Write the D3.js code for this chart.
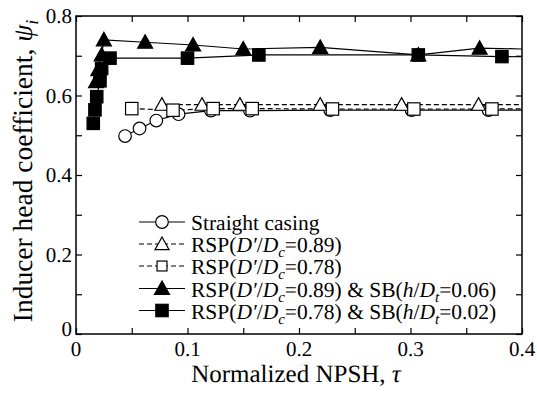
<!DOCTYPE html>
<html><head><meta charset="utf-8">
<script src="https://cdn.jsdelivr.net/npm/d3@7"></script>
<style>
@font-face{font-family:"ChartSerif";src:local("Liberation Serif"),local("LiberationSerif"),local("Liberation Serif Regular"),local("Tinos");font-style:normal;font-weight:400}
@font-face{font-family:"ChartSerif";src:local("Liberation Serif Italic"),local("LiberationSerif-Italic"),local("Tinos Italic");font-style:italic;font-weight:400}
svg text{text-rendering:geometricPrecision}
</style>
</head><body>
<svg id="c" width="537" height="394" style="position:absolute;left:0;top:0"></svg>
<script>
// ---- data ----
const xTicks = [0, 0.1, 0.2, 0.3, 0.4];
const yTicks = [0, 0.2, 0.4, 0.6, 0.8];
const xTickLabels = ["0", "0.1", "0.2", "0.3", "0.4"];
const yTickLabels = ["0", "0.2", "0.4", "0.6", "0.8"];

const straightX = [0.044, 0.057, 0.072, 0.092, 0.121, 0.156, 0.228, 0.301, 0.370, 0.42];
const straightY = [0.498, 0.517, 0.537, 0.553, 0.562, 0.562, 0.563, 0.563, 0.563, 0.563];
const rsp89X = [0.077, 0.113, 0.147, 0.219, 0.292, 0.361, 0.42];
const rsp89Y = [0.577, 0.577, 0.577, 0.577, 0.577, 0.577, 0.577];
const rsp78X = [0.050, 0.087, 0.123, 0.158, 0.230, 0.303, 0.373, 0.42];
const rsp78Y = [0.567, 0.563, 0.567, 0.567, 0.566, 0.566, 0.566, 0.567];
const sb06X = [0.018, 0.020, 0.023, 0.025, 0.062, 0.105, 0.150, 0.219, 0.307, 0.362, 0.42];
const sb06Y = [0.635, 0.665, 0.702, 0.740, 0.734, 0.727, 0.717, 0.721, 0.702, 0.719, 0.716];
const sb02X = [0.0155, 0.017, 0.0186, 0.0215, 0.023, 0.0305, 0.100, 0.164, 0.307, 0.382, 0.42];
const sb02Y = [0.530, 0.564, 0.597, 0.637, 0.668, 0.694, 0.694, 0.702, 0.702, 0.698, 0.697];

// ---- layout ----
const W = 537, H = 394;
const m = {l: 76, t: 16, r: 15, b: 60};
const pw = W - m.l - m.r, ph = H - m.t - m.b;
const FF = '"Liberation Serif", ChartSerif, "Times New Roman", Tinos';

const svg = d3.select("#c");
const x = d3.scaleLinear().domain([0, 0.4]).range([m.l, m.l + pw]);
const y = d3.scaleLinear().domain([0, 0.8]).range([m.t + ph, m.t]);

const series = [
  {xs: straightX, ys: straightY, sym: "circle", fill: "#fff", dash: null},
  {xs: rsp89X, ys: rsp89Y, sym: "tri", fill: "#fff", dash: "5,3"},
  {xs: rsp78X, ys: rsp78Y, sym: "square", fill: "#fff", dash: "5,3"},
  {xs: sb06X, ys: sb06Y, sym: "tri", fill: "#000", dash: null},
  {xs: sb02X, ys: sb02Y, sym: "square", fill: "#000", dash: null}
];

function marker(g, sym, cx, cy, fill, sc) {
  sc = sc || 1;
  if (sym === "circle") {
    g.append("circle").attr("cx", cx).attr("cy", cy).attr("r", 6.3 * sc)
      .attr("fill", fill).attr("stroke", "#000").attr("stroke-width", 1.2);
  } else if (sym === "square") {
    const h = 6.2 * sc;
    g.append("rect").attr("x", cx - h).attr("y", cy - h).attr("width", 2 * h).attr("height", 2 * h)
      .attr("fill", fill).attr("stroke", "#000").attr("stroke-width", 1.2);
  } else {
    const s = (fill === "#000" ? 7.5 : 7) * sc;
    g.append("path").attr("d", `M${cx},${cy - s}L${cx + s},${cy + s * 0.8}L${cx - s},${cy + s * 0.8}Z`)
      .attr("fill", fill).attr("stroke", "#000").attr("stroke-width", 1.2);
  }
}

function txt(px, py, size, rot) {
  return svg.append("text")
    .attr("transform", `translate(${px},${py})` + (rot ? ` rotate(${rot})` : ""))
    .attr("style", `font-family:${FF};font-size:${size}px`);
}

function draw() {
  svg.selectAll("*").remove();
  svg.append("defs").append("clipPath").attr("id", "clip")
    .append("rect").attr("x", m.l).attr("y", m.t).attr("width", pw).attr("height", ph);

  const plot = svg.append("g").attr("clip-path", "url(#clip)");
  series.forEach(s => {
    const pts = s.xs.map((v, i) => [v, s.ys[i]]);
    plot.append("path").datum(pts)
      .attr("d", d3.line().x(d => x(d[0])).y(d => y(d[1])))
      .attr("fill", "none").attr("stroke", "#000").attr("stroke-width", 1.2)
      .attr("stroke-dasharray", s.dash);
  });
  series.forEach(s => {
    s.xs.forEach((v, i) => marker(plot, s.sym, x(v), y(s.ys[i]), s.fill));
  });

  // axes (ticks inside, all four sides)
  const tl = 6;
  const ax = svg.append("g");
  const xb = d3.axisBottom(x).tickValues(d3.range(0, 0.4001, 0.05)).tickSize(-tl).tickFormat("");
  const xt = d3.axisTop(x).tickValues(d3.range(0, 0.4001, 0.05)).tickSize(-tl).tickFormat("");
  const yl = d3.axisLeft(y).tickValues(d3.range(0, 0.8001, 0.1)).tickSize(-tl).tickFormat("");
  const yr = d3.axisRight(y).tickValues(d3.range(0, 0.8001, 0.1)).tickSize(-tl).tickFormat("");
  ax.append("g").attr("transform", `translate(0,${m.t + ph})`).call(xb);
  ax.append("g").attr("transform", `translate(0,${m.t})`).call(xt);
  ax.append("g").attr("transform", `translate(${m.l},0)`).call(yl);
  ax.append("g").attr("transform", `translate(${m.l + pw},0)`).call(yr);
  ax.selectAll(".domain").remove();
  ax.selectAll(".tick line").attr("stroke", "#000").attr("stroke-width", 1.2);
  svg.append("rect").attr("x", m.l).attr("y", m.t).attr("width", pw).attr("height", ph)
    .attr("fill", "none").attr("stroke", "#000").attr("stroke-width", 1.5);

  // tick labels
  xTicks.forEach((d, i) => txt(x(d), m.t + ph + 22, 21)
    .attr("text-anchor", "middle").text(xTickLabels[i]));
  yTicks.forEach((d, i) => txt(m.l - 4, y(d) + 7 - (d === 0 ? 5 : 0), 21)
    .attr("text-anchor", "end").text(yTickLabels[i]));

  // axis titles
  const xtitle = txt(296, 382, 25).attr("text-anchor", "middle");
  xtitle.append("tspan").text("Normalized NPSH,  ");
  xtitle.append("tspan").attr("font-style", "italic").text("τ");

  const ytitle = txt(32, 171, 27.5, -90).attr("text-anchor", "middle");
  ytitle.append("tspan").text("Inducer head coefficient, ");
  ytitle.append("tspan").attr("font-style", "italic").text("ψ");
  ytitle.append("tspan").attr("font-style", "italic").attr("font-size", 18).attr("dy", 6).text("i");

  // legend
  const legY = [222, 244, 266, 288.5, 310.5];
  const lg = svg.append("g");
  series.forEach((s, i) => {
    const yy = legY[i];
    lg.append("line").attr("x1", 139).attr("x2", 185).attr("y1", yy).attr("y2", yy)
      .attr("stroke", "#000").attr("stroke-width", 1.2).attr("stroke-dasharray", s.dash);
    marker(lg, s.sym, 162, yy, s.fill, s.sym === "square" && s.fill === "#fff" ? 0.8 : 1);
    const t = txt(191, yy + 8, 21.5);
    if (i === 0) { t.text("Straight casing"); return; }
    const ratio = (i === 1 || i === 3) ? "0.89" : "0.78";
    t.append("tspan").text("RSP(");
    t.append("tspan").attr("font-style", "italic").text("D′");
    t.append("tspan").text("/");
    t.append("tspan").attr("font-style", "italic").text("D");
    t.append("tspan").attr("font-style", "italic").attr("font-size", 15).attr("dy", 5).text("c");
    t.append("tspan").attr("dy", -5).text("=" + ratio + ")");
    if (i >= 3) {
      t.append("tspan").text(" & SB(");
      t.append("tspan").attr("font-style", "italic").text("h");
      t.append("tspan").text("/");
      t.append("tspan").attr("font-style", "italic").text("D");
      t.append("tspan").attr("font-style", "italic").attr("font-size", 15).attr("dy", 5).text("t");
      t.append("tspan").attr("dy", -5).text("=" + (i === 3 ? "0.06" : "0.02") + ")");
    }
  });
}

draw();
if (document.fonts && document.fonts.load) {
  Promise.all([
    document.fonts.load('21px ChartSerif'),
    document.fonts.load('italic 21px ChartSerif')
  ]).then(draw).catch(() => {});
}
</script>
</body></html>
